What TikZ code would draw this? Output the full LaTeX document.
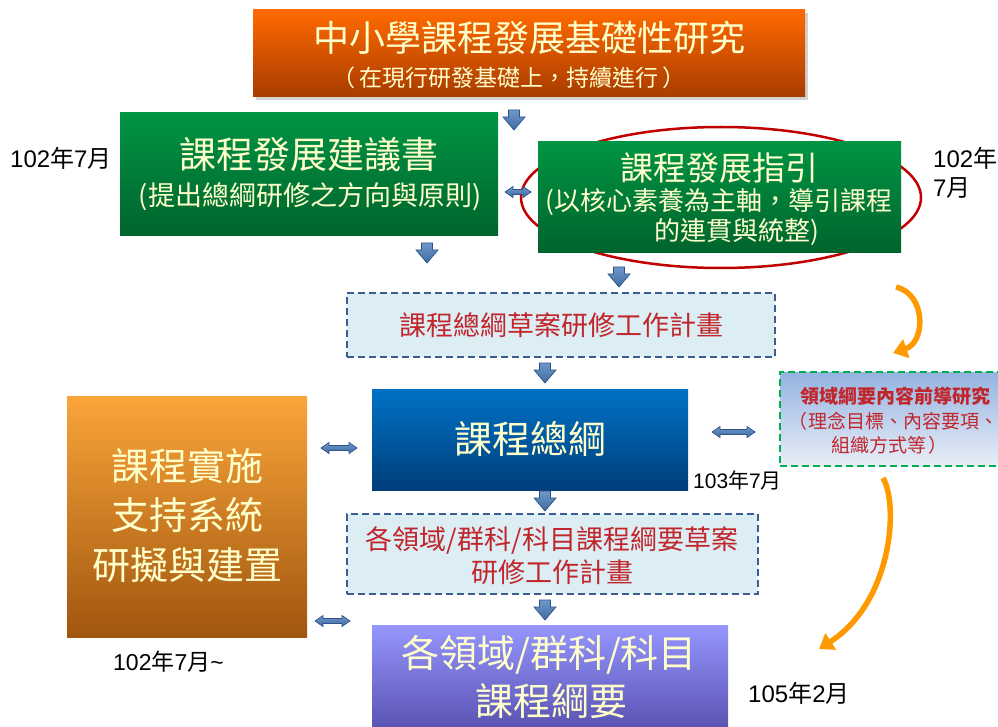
\documentclass[tikz,border=0pt]{standalone}
\usepackage{fontspec}
\setmainfont{Liberation Sans}
\newfontfamily\cjk{Noto Sans CJK TC}
\usetikzlibrary{arrows.meta,shadows}
\definecolor{cream}{HTML}{FFFFCC}
\definecolor{redtxt}{HTML}{C0262C}
\definecolor{dashblue}{HTML}{3B5E91}
\definecolor{lightfill}{HTML}{DCEEF3}
\definecolor{arrfill}{HTML}{4A7EBB}
\definecolor{arrline}{HTML}{2F528F}
\definecolor{orng}{HTML}{FF9900}
\newcommand\fs[1]{\fontsize{#1}{#1}\selectfont}
\tikzset{
  solidbox/.style={rectangle, inner sep=0pt, draw=none},
  dashbox/.style={rectangle, inner sep=0pt, draw=dashblue, line width=2pt, dash pattern=on 7pt off 4pt, fill=lightfill},
  boxtxt/.style={inner sep=0pt, text=cream},
  redlbl/.style={inner sep=0pt, text=redtxt},
  datelbl/.style={inner sep=0pt, anchor=west, text=black},
  blockarr/.style={top color=arrfill!80!white, bottom color=arrfill!85!black, draw=arrline, line width=0.7pt},
  curvearr/.style={draw=orng, line width=5.5pt, -{Triangle[width=19pt,length=14pt]}},
  downarr/.pic={\path[blockarr] (-5.5,-10) -- (5.5,-10) -- (5.5,-3) -- (11,-3) -- (0,10) -- (-11,-3) -- (-5.5,-3) -- cycle;}
}
\newcommand\hdbl[3]{\path[blockarr] (#1,#3) -- (#1+8,#3-5.5) -- (#1+8,#3-2.5) -- (#2-8,#3-2.5) -- (#2-8,#3-5.5) -- (#2,#3) -- (#2-8,#3+5.5) -- (#2-8,#3+2.5) -- (#1+8,#3+2.5) -- (#1+8,#3+5.5) -- cycle;}
\begin{document}
\begin{tikzpicture}[x=1pt,y=-1pt]
\useasboundingbox (0,0) rectangle (998,727);
\fill[white] (0,0) rectangle (998,727);

% red ellipse behind guideline box
\draw[color={rgb,255:red,192;green,0;blue,0}, line width=2.5pt] (721,197.5) ellipse [x radius=200, y radius=70.5];

% top box
\node[solidbox, minimum width=552pt, minimum height=87pt, top color={rgb,255:red,255;green,106;blue,0}, bottom color={rgb,255:red,168;green,60;blue,0}, drop shadow={shadow xshift=3pt, shadow yshift=-3pt, opacity=0.35}] (top) at (529,53.5) {};
\node[boxtxt, font=\cjk\fs{36}] (topt1) at (529,38) {中小學課程發展基礎性研究};
\node[boxtxt, font=\cjk\fs{23}] (topt2) at (509,78) {（\hspace{4pt}在現行研發基礎上，持續進行\hspace{4pt}）};

% left green box
\node[solidbox, minimum width=378pt, minimum height=123pt, top color={rgb,255:red,0;green,148;blue,68}, bottom color={rgb,255:red,0;green,100;blue,45}] (sugg) at (309,174.5) {};
\node[boxtxt, font=\cjk\fs{37}] (suggt1) at (309,155) {課程發展建議書};
\node[boxtxt, font=\cjk\fs{27}] (suggt2) at (310,197) {(提出總綱研修之方向與原則)};

% right green box
\node[solidbox, minimum width=363pt, minimum height=111pt, top color={rgb,255:red,0;green,148;blue,68}, bottom color={rgb,255:red,0;green,100;blue,45}] (guide) at (719.5,197.5) {};
\node[boxtxt, font=\cjk\fs{33}] (guidet1) at (719,168) {課程發展指引};
\node[boxtxt, font=\cjk\fs{26}] (guidet2) at (719,202) {(以核心素養為主軸，導引課程};
\node[boxtxt, font=\cjk\fs{26}] (guidet3) at (737,232) {的連貫與統整)};

% dashed box 1
\node[dashbox, minimum width=428pt, minimum height=64pt] (plan1) at (561,325) {};
\node[redlbl, font=\cjk\fs{27}] (plan1t) at (561,325) {課程總綱草案研修工作計畫};

% blue box
\node[solidbox, minimum width=316pt, minimum height=101pt, top color={rgb,255:red,0;green,114;blue,198}, bottom color={rgb,255:red,0;green,62;blue,122}] (core) at (530,439.5) {};
\node[boxtxt, font=\cjk\fs{38}] (coret) at (530,439) {課程總綱};

% right dashed green box
\node[rectangle, inner sep=0pt, minimum width=230pt, minimum height=94pt, top color={rgb,255:red,149;green,179;blue,224}, bottom color={rgb,255:red,232;green,238;blue,248}, draw={rgb,255:red,0;green,176;blue,80}, line width=2.5pt, dash pattern=on 7pt off 4pt] (pre) at (895,419) {};
\node[redlbl, font=\cjk\bfseries\fs{19}] (pret1) at (895,396) {領域綱要內容前導研究};
\node[redlbl, font=\cjk\fs{19}, anchor=west] (pret2) at (788,421) {（\hspace{1pt}理念目標、內容要項、};
\node[redlbl, font=\cjk\fs{19}] (pret3) at (889,445) {組織方式等\hspace{2pt}）};

% left orange box
\node[solidbox, minimum width=240pt, minimum height=241pt, top color={rgb,255:red,250;green,165;blue,58}, bottom color={rgb,255:red,160;green,86;blue,14}] (supp) at (187,516.5) {};
\node[boxtxt, font=\cjk\fs{38}] (suppt1) at (187,466) {課程實施};
\node[boxtxt, font=\cjk\fs{38}] (suppt2) at (187,515) {支持系統};
\node[boxtxt, font=\cjk\fs{38}] (suppt3) at (187,565) {研擬與建置};

% dashed box 2
\node[dashbox, minimum width=411pt, minimum height=80pt] (plan2) at (552.5,554) {};
\node[redlbl, font=\cjk\fs{27}] (plan2t1) at (552,540) {各領域/群科/科目課程綱要草案};
\node[redlbl, font=\cjk\fs{27}] (plan2t2) at (552,572) {研修工作計畫};

% purple box
\node[solidbox, minimum width=356pt, minimum height=120pt, top color={rgb,255:red,150;green,150;blue,255}, bottom color={rgb,255:red,80;green,72;blue,165}] (dom) at (550,685) {};
\node[boxtxt, font=\cjk\fs{38}] (domt1) at (549,655) {各領域/群科/科目};
\node[boxtxt, font=\cjk\fs{38}] (domt2) at (551,701) {課程綱要};

% date labels
\node[datelbl, font=\fs{24}] (d1) at (10,158) {102{\cjk 年}7{\cjk 月}};
\node[datelbl, font=\fs{24}] (d2) at (933,158) {102{\cjk 年}};
\node[datelbl, font=\fs{24}] (d3) at (933,188) {7{\cjk 月}};
\node[datelbl, font=\fs{21}] (d4) at (693,480) {103{\cjk 年}7{\cjk 月}};
\node[datelbl, font=\fs{23}] (d5) at (113,662) {102{\cjk 年}7{\cjk 月}\char`\~};
\node[datelbl, font=\fs{24}] (d6) at (748,693) {105{\cjk 年}2{\cjk 月}};

% block arrows
\pic at (514,120) {downarr};
\pic at (427,253) {downarr};
\pic at (619,277) {downarr};
\pic at (545,373) {downarr};
\pic at (545,501) {downarr};
\pic at (545,610) {downarr};
\hdbl{505}{531}{192}
\hdbl{321}{357}{448}
\hdbl{315}{350}{621}
\hdbl{712}{755}{432}

% curved orange arrows
\coordinate (c1s) at (896,287);
\coordinate (c1e) at (893,353);
\coordinate (c2s) at (883,478);
\coordinate (c2e) at (819,649);
\draw[curvearr] (c1s) .. controls (926,294) and (926,342) .. (c1e);
\draw[curvearr] (c2s) .. controls (899,505) and (892,602) .. (c2e);
\end{tikzpicture}
\end{document}
